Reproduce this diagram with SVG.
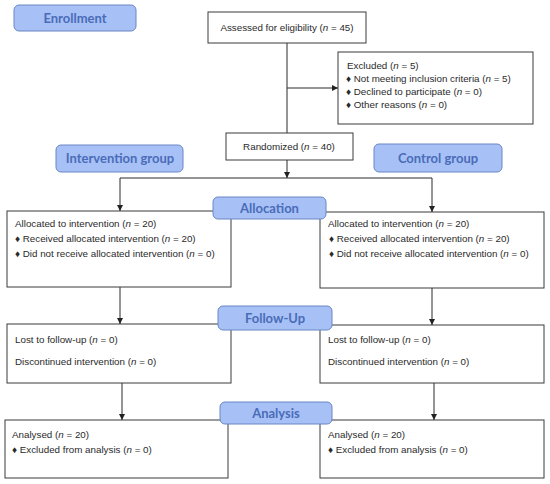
<svg xmlns="http://www.w3.org/2000/svg" width="550" height="484" viewBox="0 0 550 484">
<defs>
<marker id="ah" viewBox="0 0 8 8" refX="8" refY="4" markerWidth="6" markerHeight="6" markerUnits="userSpaceOnUse" orient="auto">
<path d="M0,0 L8,4 L0,8 Z" fill="#222"/>
</marker>
<style>
.box{fill:#fff;stroke:#3a3a3a;stroke-width:1}
.lab{fill:#a7c1f6;stroke:#6a86c4;stroke-width:1}
.lt{font-family:Lato,"Open Sans",sans-serif;font-weight:bold;font-size:13px;fill:#4a6cb8;text-anchor:middle}
.t{font-family:"Liberation Sans",Arial,sans-serif;font-size:9.8px;fill:#2a2a2a}
.c{stroke:#2a2a2a;stroke-width:1;fill:none}
.ca{stroke:#2a2a2a;stroke-width:1;fill:none;marker-end:url(#ah)}
</style>
</defs>
<rect width="550" height="484" fill="#fff"/>
<g id="connectors">
<line class="c" x1="287" y1="43" x2="287" y2="133"/>
<line class="ca" x1="287" y1="88" x2="338" y2="88"/>
<line class="ca" x1="287" y1="160" x2="287" y2="178"/>
<line class="c" x1="120" y1="178" x2="432" y2="178"/>
<line class="ca" x1="120" y1="178" x2="120" y2="211"/>
<line class="ca" x1="432" y1="178" x2="432" y2="212"/>
<line class="ca" x1="120" y1="287" x2="120" y2="324"/>
<line class="ca" x1="432" y1="288" x2="432" y2="325"/>
<line class="ca" x1="122" y1="383" x2="122" y2="420"/>
<line class="ca" x1="434" y1="383" x2="434" y2="420"/>
</g>
<g id="enrollment"><rect class="lab" x="14" y="5" width="122" height="26" rx="5"/><text class="lt" x="75" y="22.5">Enrollment</text></g>
<g id="assessed"><rect class="box" x="208" y="12" width="158" height="31"/><text class="t" x="287" y="31" text-anchor="middle">Assessed for eligibility (<tspan font-style="italic">n</tspan> = 45)</text></g>
<g id="excluded"><rect class="box" x="338" y="52" width="195" height="72"/>
<text class="t" x="347" y="69">Excluded (<tspan font-style="italic">n</tspan> = 5)</text>
<text class="t" x="346" y="82">♦ Not meeting inclusion criteria (<tspan font-style="italic">n</tspan> = 5)</text>
<text class="t" x="346" y="95">♦ Declined to participate (<tspan font-style="italic">n</tspan> = 0)</text>
<text class="t" x="346" y="108">♦ Other reasons (<tspan font-style="italic">n</tspan> = 0)</text></g>
<g id="randomized"><rect class="box" x="226" y="133" width="127" height="27"/><text class="t" x="289" y="150" text-anchor="middle">Randomized (<tspan font-style="italic">n</tspan> = 40)</text></g>
<g id="intervention-group"><rect class="lab" x="56" y="145" width="127" height="27" rx="5"/><text class="lt" x="120" y="163">Intervention group</text></g>
<g id="control-group"><rect class="lab" x="374" y="144" width="128" height="28" rx="5"/><text class="lt" x="438" y="162.5">Control group</text></g>
<g id="alloc-left"><rect class="box" x="7" y="211" width="224" height="76"/>
<text class="t" x="15" y="227">Allocated to intervention (<tspan font-style="italic">n</tspan> = 20)</text>
<text class="t" x="15" y="242">♦ Received allocated intervention (<tspan font-style="italic">n</tspan> = 20)</text>
<text class="t" x="15" y="257">♦ Did not receive allocated intervention (<tspan font-style="italic">n</tspan> = 0)</text></g>
<g id="alloc-right"><rect class="box" x="320" y="212" width="224" height="76"/>
<text class="t" x="328" y="227">Allocated to intervention (<tspan font-style="italic">n</tspan> = 20)</text>
<text class="t" x="329" y="242">♦ Received allocated intervention (<tspan font-style="italic">n</tspan> = 20)</text>
<text class="t" x="329" y="257">♦ Did not receive allocated intervention (<tspan font-style="italic">n</tspan> = 0)</text></g>
<g id="allocation"><rect class="lab" x="213" y="197" width="113" height="22" rx="5"/><text class="lt" x="269.5" y="212.5">Allocation</text></g>
<g id="fu-left"><rect class="box" x="7" y="324" width="224" height="59"/>
<text class="t" x="15" y="343">Lost to follow-up (<tspan font-style="italic">n</tspan> = 0)</text>
<text class="t" x="15" y="365">Discontinued intervention (<tspan font-style="italic">n</tspan> = 0)</text></g>
<g id="fu-right"><rect class="box" x="320" y="325" width="224" height="58"/>
<text class="t" x="328" y="343">Lost to follow-up (<tspan font-style="italic">n</tspan> = 0)</text>
<text class="t" x="328" y="365">Discontinued intervention (<tspan font-style="italic">n</tspan> = 0)</text></g>
<g id="followup"><rect class="lab" x="218" y="306" width="114" height="24" rx="5"/><text class="lt" x="275" y="322.5">Follow-Up</text></g>
<g id="an-left"><rect class="box" x="5" y="420" width="223" height="58"/>
<text class="t" x="12" y="438">Analysed (<tspan font-style="italic">n</tspan> = 20)</text>
<text class="t" x="12" y="453">♦ Excluded from analysis (<tspan font-style="italic">n</tspan> = 0)</text></g>
<g id="an-right"><rect class="box" x="320" y="420" width="224" height="58"/>
<text class="t" x="328" y="438">Analysed (<tspan font-style="italic">n</tspan> = 20)</text>
<text class="t" x="328" y="453">♦ Excluded from analysis (<tspan font-style="italic">n</tspan> = 0)</text></g>
<g id="analysis"><rect class="lab" x="220" y="402" width="112" height="22" rx="5"/><text class="lt" x="276" y="417.5">Analysis</text></g>
</svg>
